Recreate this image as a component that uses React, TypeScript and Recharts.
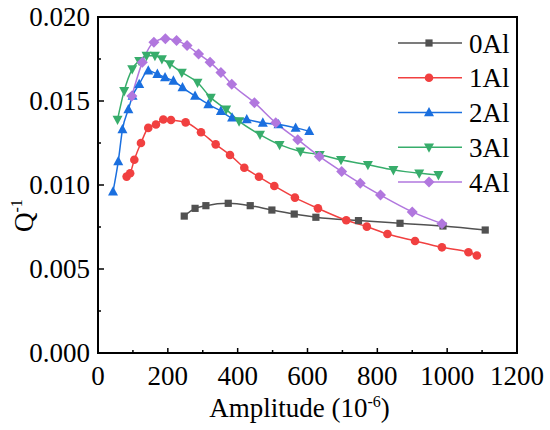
import React from 'react';
import { LineChart, Line, XAxis, YAxis, ReferenceArea, Legend, Label } from 'recharts';

// amplitude (1e-6) and damping Q^-1 per alloy
const al0X = [247, 278, 309, 373, 436, 498, 562, 624, 746, 865, 988, 1109];
const al0Q = [0.00815, 0.00861, 0.00877, 0.00891, 0.00877, 0.00851, 0.00827, 0.00808, 0.00788, 0.00772, 0.00756, 0.00732];

const al1X = [82, 92, 104, 123, 144, 166, 187, 209, 251, 295, 337, 378, 419, 461, 505, 564, 630, 711, 770, 829, 908, 985, 1061, 1085];
const al1Q = [0.0105, 0.0107, 0.0115, 0.0125, 0.0134, 0.0136, 0.0139, 0.01387, 0.01373, 0.01314, 0.01242, 0.01179, 0.01103, 0.01049, 0.00994, 0.00925, 0.00861, 0.0079, 0.00752, 0.00708, 0.00667, 0.00629, 0.006, 0.0058];

const al2X = [43, 58, 70, 87, 99, 118, 144, 170, 192, 216, 242, 278, 316, 352, 384, 426, 472, 517, 566, 605];
const al2Q = [0.0096, 0.0114, 0.0133, 0.0145, 0.0153, 0.016, 0.0168, 0.0166, 0.0164, 0.0162, 0.0158, 0.0153, 0.0148, 0.0144, 0.014, 0.0139, 0.0137, 0.0136, 0.0134, 0.0132];

const al3X = [56, 75, 98, 118, 139, 163, 183, 206, 240, 285, 323, 367, 404, 464, 520, 580, 635, 696, 773, 846, 920, 975];
const al3Q = [0.0139, 0.0156, 0.0169, 0.0174, 0.0177, 0.0177, 0.0175, 0.0172, 0.0167, 0.0161, 0.0152, 0.0145, 0.0138, 0.013, 0.0124, 0.012, 0.0118, 0.0115, 0.0112, 0.0109, 0.0107, 0.0106];

const al4X = [97, 127, 160, 193, 225, 255, 288, 321, 352, 383, 448, 509, 572, 634, 698, 751, 809, 900, 985];
const al4Q = [0.0153, 0.0173, 0.0185, 0.0187, 0.0186, 0.0183, 0.0178, 0.0173, 0.0167, 0.016, 0.0149, 0.0137, 0.0127, 0.0117, 0.0108, 0.0101, 0.0094, 0.0084, 0.0077];

const xTicks = [0, 100, 200, 300, 400, 500, 600, 700, 800, 900, 1000, 1100, 1200];
const yTicks = [0, 0.0025, 0.005, 0.0075, 0.01, 0.0125, 0.015, 0.0175, 0.02];

const txt = { fontFamily: 'Liberation Serif', fontSize: 27 };

const zip = (xs: number[], qs: number[]) => xs.map((x, i) => ({ x, q: qs[i] }));

const series = [
  { name: '0Al', data: zip(al0X, al0Q), color: '#515151', shape: 'square' },
  { name: '1Al', data: zip(al1X, al1Q), color: '#F14040', shape: 'circle' },
  { name: '2Al', data: zip(al2X, al2Q), color: '#1A6FDF', shape: 'up' },
  { name: '3Al', data: zip(al3X, al3Q), color: '#37AD6B', shape: 'down' },
  { name: '4Al', data: zip(al4X, al4Q), color: '#B177DE', shape: 'diamond' },
];

function marker(shape: string, cx: number, cy: number, color: string, key?: string) {
  switch (shape) {
    case 'square':
      return <rect key={key} x={cx - 3.6} y={cy - 3.6} width={7.2} height={7.2} fill={color} />;
    case 'circle':
      return <circle key={key} cx={cx} cy={cy} r={4.3} fill={color} />;
    case 'up':
      return <polygon key={key} points={`${cx},${cy - 5.5} ${cx + 5},${cy + 3.8} ${cx - 5},${cy + 3.8}`} fill={color} />;
    case 'down':
      return <polygon key={key} points={`${cx},${cy + 5.5} ${cx + 5},${cy - 3.8} ${cx - 5},${cy - 3.8}`} fill={color} />;
    default:
      return <polygon key={key} points={`${cx},${cy - 5.5} ${cx + 5.5},${cy} ${cx},${cy + 5.5} ${cx - 5.5},${cy}`} fill={color} />;
  }
}

const XTick = ({ x, y, payload }: any) => {
  const major = payload.value % 200 === 0;
  return (
    <g>
      <line x1={x} x2={x} y1={y} y2={y - (major ? 5 : 3)} stroke="#000" strokeWidth={1.5} />
      {major && (
        <text x={x} y={y + 32} textAnchor="middle" style={txt} fill="#000">
          {payload.value}
        </text>
      )}
    </g>
  );
};

const YTick = ({ x, y, payload }: any) => {
  const major = Math.round(payload.value * 10000) % 50 === 0;
  return (
    <g>
      <line x1={x} x2={x + (major ? 6 : 3)} y1={y} y2={y} stroke="#000" strokeWidth={1.5} />
      {major && (
        <text x={x - 8} y={y + 9} textAnchor="end" style={txt} fill="#000">
          {payload.value.toFixed(3)}
        </text>
      )}
    </g>
  );
};

const LegendBox = ({ payload }: any) => (
  <svg width={140} height={180}>
    {(payload || []).map((entry: any, i: number) => {
      const s = series.find((d) => d.name === entry.value) || series[i];
      const cy = 17 + i * 34.75;
      return (
        <g key={s.name}>
          <line x1={2} x2={66} y1={cy} y2={cy} stroke={s.color} strokeWidth={1.5} />
          {marker(s.shape, 33, cy, s.color)}
          <text x={73} y={cy + 9.5} style={txt} fill="#000">
            {s.name}
          </text>
        </g>
      );
    })}
  </svg>
);

export default function App() {
  return (
    <div style={{ position: 'absolute', left: 0, top: 0, width: 550, height: 430, background: '#fff' }}>
      <LineChart width={550} height={430} margin={{ top: 17, right: 33, bottom: 0, left: 0 }}>
        <XAxis
          type="number"
          dataKey="x"
          domain={[0, 1200]}
          ticks={xTicks}
          interval={0}
          height={77}
          tickSize={0}
          tickMargin={0}
          tickLine={false}
          tick={<XTick />}
          axisLine={{ stroke: '#000', strokeWidth: 2 }}
          allowDuplicatedCategory={false}
        >
          <Label
            content={({ viewBox }: any) => (
              <text x={viewBox.x + viewBox.width / 2 - 8} y={417} textAnchor="middle" style={txt} fill="#000">
                Amplitude (10
                <tspan dy={-10} style={{ fontSize: 16 }}>-6</tspan>
                <tspan dy={10}>)</tspan>
              </text>
            )}
          />
        </XAxis>
        <YAxis
          type="number"
          dataKey="q"
          domain={[0, 0.02]}
          ticks={yTicks}
          interval={0}
          width={98}
          tickSize={0}
          tickMargin={0}
          tickLine={false}
          tick={<YTick />}
          axisLine={{ stroke: '#000', strokeWidth: 2 }}
        >
          <Label
            content={() => (
              <text transform="translate(33,232) rotate(-90)" style={txt} fill="#000">
                Q
                <tspan dy={-11} style={{ fontSize: 16 }}>-1</tspan>
              </text>
            )}
          />
        </YAxis>
        <ReferenceArea x1={0} x2={1200} y1={0} y2={0.02} fill="none" stroke="#000" strokeWidth={2} />
        {series.map((s) => (
          <Line
            key={s.name}
            name={s.name}
            data={s.data}
            dataKey="q"
            type="monotone"
            stroke={s.color}
            strokeWidth={1.5}
            isAnimationActive={false}
            dot={(p: any) => marker(s.shape, p.cx, p.cy, s.color, `${s.name}-${p.index}`)}
            activeDot={false}
          />
        ))}
        <Legend
          layout="vertical"
          align="center"
          verticalAlign="middle"
          content={<LegendBox />}
          wrapperStyle={{ left: 396, top: 26, width: 140, height: 180 }}
        />
      </LineChart>
    </div>
  );
}
